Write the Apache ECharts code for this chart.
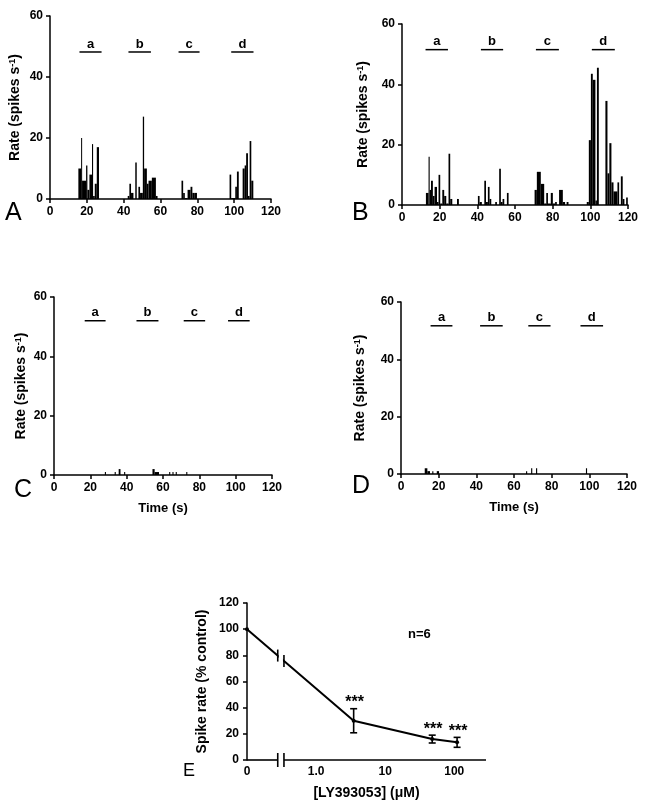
<!DOCTYPE html>
<html><head><meta charset="utf-8">
<script src="https://cdn.jsdelivr.net/npm/echarts@6/dist/echarts.min.js"></script>
<style>html,body{margin:0;padding:0;background:#fff}#c{width:649px;height:804px}</style>
</head><body><div id="c"></div>
<script>
// ---------- data ----------
const timeTicks = [0, 20, 40, 60, 80, 100, 120];
const rateTicks = [0, 20, 40, 60];
const stimLabels = ['a', 'b', 'c', 'd'];

// stimulus periods [start s, end s]
const stimA = [[16, 28], [42.6, 54.8], [69.8, 81.2], [98.4, 110.5]];
const stimB = [[12.5, 24.4], [41.9, 53.7], [71.1, 83.3], [100.8, 113]];
const stimC = [[16.9, 28.4], [45.4, 57.5], [71.4, 83.2], [95.8, 107.7]];
const stimD = [[15.7, 27.3], [42, 54], [67.6, 79.4], [95.3, 107.3]];
const stimLevel = { A: 48.2, B: 51.5, C: 52, D: 51.7 };

// histogram bins [start s, end s, rate spikes/s]
const binsA = [
  [15.4,16.9,10],[16.9,17.4,20],[17.4,19.6,6],[19.6,20.3,11],[20.3,21.4,3],[21.4,22.8,8],[22.8,23.4,18],[23.4,24.3,1],[24.3,25.4,5],[25.4,26.6,17],
  [42.2,43.1,1],[43.1,44,5],[44,45.3,2],[46.3,47.1,12],[48,48.9,4],[48.9,50.4,2],[50.4,51.1,27],[51.1,52.6,10],[52.6,53.5,5],[53.5,55.3,6],[55.3,57.5,7],[57.5,58.4,1],
  [71.4,72.3,6],[72.3,73.2,2],[73.2,74.7,0.3],[74.7,76.3,3],[76.3,77.3,4],[77.3,78.3,2],[78.3,79.8,2],
  [97.5,98.4,8],[98.4,100.6,0.3],[100.6,101.5,4],[101.5,102.5,9],[104.6,105.7,10],[105.7,106.5,11],[106.5,107.5,15],[107.5,108.4,1],[108.4,109.3,19],[109.3,110.4,6]
];
const binsB = [
  [12.7,14.1,4],[14.1,14.7,16],[14.7,15.4,5],[15.4,16.4,8],[16.4,17.3,3],[17.3,18.6,6],[18.6,19.4,1],[19.4,20.3,10],[20.3,21.4,0.5],[21.4,22.4,5],[22.4,23.5,3],[23.5,24.7,0.5],[24.7,25.6,17],[25.6,26.7,2],[29.2,30.2,2],
  [40.3,41.2,3],[41.2,42.4,1],[43.7,44.6,8],[44.6,45.6,1],[45.6,46.5,6],[46.5,47.4,2],[49.5,50.4,1],[51.6,52.5,12],[52.5,53.4,1],[53.4,54.3,2],[55.7,56.6,4],
  [70.4,71.6,5],[71.6,73.7,11],[73.7,75.5,7],[75.5,76.6,0.5],[76.6,77.5,4],[77.5,79,0.5],[79,80.1,4],[80.1,81.3,0.5],[81.3,82.2,1],[83.4,85.4,5],[85.4,86.6,1],[87.4,88.4,1],
  [98.1,99.2,1],[99.2,100.3,21.5],[100.3,101.3,43.5],[101.3,102.7,41.5],[102.7,103.5,1.5],[103.5,104.5,45.5],[108,109.1,34.5],[109.1,110.1,10.5],[110.1,111.2,20.5],[111.2,112.3,7.5],[112.3,114.4,4.5],[114.4,115.3,7.5],[116.2,117.2,9.5],[117.2,118.1,2],[119,119.9,2.5]
];
const binsC = [
  [28,28.6,1],[33.4,34,1],[35.6,36.6,2],[38.6,39.2,1],[54.2,55.4,2],[55.4,57.8,1],[63.4,64,1],[65.2,65.8,1],[67,67.6,1],[72.8,73.4,1]
];
const binsD = [
  [12.6,14,2],[14,15.4,1],[16.6,17.2,1],[19,20.2,1],[66.4,67,1],[69.1,69.7,2],[71.7,72.3,2],[98.2,98.8,2]
];

// panel E: concentration-response
const eConc = [0, 3.5, 48, 110];          // µM (0 = control)
const eMean = [100, 30, 16, 13.5];         // % control
const eErr  = [0, 9.2, 3, 3.8];            // ± error
const eStars = ['', '***', '***', '***'];
const eTickConc = [0, 1, 10, 100];
const eTickLabels = ['0', '1.0', '10', '100'];
const eYTicks = [0, 20, 40, 60, 80, 100, 120];
const eBreak = [0.445, 0.535];             // axis-break positions (axis units)
const eXMax = 3.46;

// ---------- helpers ----------
const FONT = '"Liberation Sans", Arial, sans-serif';
function tpos(c) { return c === 0 ? 0 : Math.log10(c) + 1; }

const grids = [
  { left: 50,  top: 16,  width: 221, height: 183 },   // A
  { left: 402, top: 24,  width: 226, height: 181 },   // B
  { left: 54,  top: 297, width: 218, height: 178 },   // C
  { left: 401, top: 302, width: 226, height: 172 },   // D
  { left: 247, top: 603, width: 239, height: 157 }    // E
];
const nameGaps = [28, 32, 26, 34];

const axisLineStyle = { color: '#000', width: 1.5 };
const tickStyle = { show: true, length: 4, lineStyle: { color: '#000', width: 1.5 } };
const labelStyle = { color: '#000', fontFamily: FONT, fontWeight: 'bold', fontSize: 12 };

const xAxes = [], yAxes = [], series = [];

const panels = [
  { bins: binsA, stim: stimA, lvl: stimLevel.A, time: false },
  { bins: binsB, stim: stimB, lvl: stimLevel.B, time: false },
  { bins: binsC, stim: stimC, lvl: stimLevel.C, time: true },
  { bins: binsD, stim: stimD, lvl: stimLevel.D, time: true }
];

panels.forEach((p, i) => {
  xAxes.push({
    gridIndex: i, type: 'value', min: timeTicks[0], max: timeTicks[timeTicks.length - 1],
    interval: timeTicks[1] - timeTicks[0],
    axisLine: { show: true, lineStyle: axisLineStyle }, axisTick: tickStyle,
    axisLabel: Object.assign({ margin: 7 }, labelStyle), splitLine: { show: false },
    name: p.time ? 'Time (s)' : '', nameLocation: 'middle', nameGap: 27,
    nameTextStyle: { color: '#000', fontFamily: FONT, fontWeight: 'bold', fontSize: 13 }
  });
  yAxes.push({
    gridIndex: i, type: 'value', min: rateTicks[0], max: rateTicks[rateTicks.length - 1],
    interval: rateTicks[1] - rateTicks[0],
    axisLine: { show: true, lineStyle: axisLineStyle }, axisTick: tickStyle,
    axisLabel: Object.assign({ margin: 7 }, labelStyle), splitLine: { show: false },
    name: 'Rate (spikes s{sup|-1})', nameLocation: 'middle', nameGap: nameGaps[i],
    nameTextStyle: {
      color: '#000', fontFamily: FONT, fontWeight: 'bold', fontSize: 14,
      rich: { sup: { color: '#000', fontFamily: FONT, fontWeight: 'bold', fontSize: 9, verticalAlign: 'top', lineHeight: 14 } }
    }
  });
  series.push({
    type: 'custom', xAxisIndex: i, yAxisIndex: i, data: p.bins,
    encode: { x: [0, 1], y: 2 }, silent: true,
    renderItem: function (params, api) {
      const a = api.coord([api.value(0), 0]);
      const b = api.coord([api.value(1), api.value(2)]);
      return { type: 'rect', shape: { x: a[0], y: b[1], width: Math.max(b[0] - a[0], 1), height: a[1] - b[1] },
               style: { fill: '#000' } };
    }
  });
  series.push({
    type: 'custom', xAxisIndex: i, yAxisIndex: i,
    data: p.stim.map(s => [s[0], s[1], p.lvl]),
    encode: { x: [0, 1], y: 2 }, silent: true,
    renderItem: function (params, api) {
      const a = api.coord([api.value(0), api.value(2)]);
      const b = api.coord([api.value(1), api.value(2)]);
      return { type: 'group', children: [
        { type: 'line', shape: { x1: a[0], y1: a[1], x2: b[0], y2: b[1] }, style: { stroke: '#000', lineWidth: 1.5 } },
        { type: 'text', style: { text: stimLabels[params.dataIndex], x: (a[0] + b[0]) / 2, y: a[1] - 8,
          align: 'center', verticalAlign: 'middle', fill: '#000', font: 'bold 13px ' + FONT } }
      ] };
    }
  });
});

// ---------- panel E ----------
xAxes.push({
  gridIndex: 4, type: 'value', min: 0, max: eXMax, interval: 1,
  axisLine: { show: false }, axisTick: { show: false }, splitLine: { show: false },
  axisLabel: Object.assign({ margin: 6, formatter: function (v) {
    const k = eTickConc.findIndex(c => Math.abs(tpos(c) - v) < 1e-6);
    return k >= 0 ? eTickLabels[k] : '';
  } }, labelStyle),
  name: '[LY393053] (\u03bcM)', nameLocation: 'middle', nameGap: 26,
  nameTextStyle: { color: '#000', fontFamily: FONT, fontWeight: 'bold', fontSize: 14 }
});
yAxes.push({
  gridIndex: 4, type: 'value', min: eYTicks[0], max: eYTicks[eYTicks.length - 1], interval: eYTicks[1] - eYTicks[0],
  axisLine: { show: true, lineStyle: axisLineStyle }, axisTick: tickStyle, splitLine: { show: false },
  axisLabel: Object.assign({ margin: 8 }, labelStyle),
  name: 'Spike rate (% control)', nameLocation: 'middle', nameGap: 38,
  nameTextStyle: { color: '#000', fontFamily: FONT, fontWeight: 'bold', fontSize: 14 }
});

const ePts = eConc.map((c, i) => [tpos(c), eMean[i]]);

// axis line with break
series.push({
  type: 'custom', xAxisIndex: 4, yAxisIndex: 4, silent: true, data: [[0, 0]], z: 3,
  renderItem: function (params, api) {
    const o = api.coord([0, 0]), b1 = api.coord([eBreak[0], 0]), b2 = api.coord([eBreak[1], 0]), e = api.coord([eXMax, 0]);
    // break marks on the curve (interpolated on the segment control -> first dose)
    const t0 = ePts[0][0], t1 = ePts[1][0], v0 = ePts[0][1], v1 = ePts[1][1];
    const c1 = api.coord([eBreak[0], v0 + (v1 - v0) * (eBreak[0] - t0) / (t1 - t0)]);
    const c2 = api.coord([eBreak[1], v0 + (v1 - v0) * (eBreak[1] - t0) / (t1 - t0)]);
    const st = { stroke: '#000', lineWidth: 1.6 };
    return { type: 'group', children: [
      { type: 'line', shape: { x1: o[0], y1: o[1], x2: b1[0], y2: b1[1] }, style: st },
      { type: 'line', shape: { x1: b2[0], y1: b2[1], x2: e[0], y2: e[1] }, style: st },
      { type: 'line', shape: { x1: b1[0], y1: b1[1] - 7, x2: b1[0], y2: b1[1] + 7 }, style: st },
      { type: 'line', shape: { x1: b2[0], y1: b2[1] - 7, x2: b2[0], y2: b2[1] + 7 }, style: st },
      { type: 'rect', shape: { x: c1[0] + 1, y: c1[1] - 8, width: c2[0] - c1[0] - 2, height: (c2[1] - c1[1]) + 16 }, style: { fill: '#fff' } },
      { type: 'line', shape: { x1: c1[0], y1: c1[1] - 6, x2: c1[0], y2: c1[1] + 6 }, style: st },
      { type: 'line', shape: { x1: c2[0], y1: c2[1] - 6, x2: c2[0], y2: c2[1] + 6 }, style: st }
    ] };
  }
});
// curve
series.push({
  type: 'line', xAxisIndex: 4, yAxisIndex: 4, data: ePts, z: 2,
  lineStyle: { color: '#000', width: 2 }, itemStyle: { color: '#000' },
  symbol: 'circle', symbolSize: 4, showSymbol: true, silent: true
});
// error bars + stars
series.push({
  type: 'custom', xAxisIndex: 4, yAxisIndex: 4, silent: true, z: 4,
  data: eConc.map((c, i) => [tpos(c), eMean[i], eErr[i]]),
  renderItem: function (params, api) {
    const t = api.value(0), m = api.value(1), er = api.value(2);
    if (!er) return null;
    const top = api.coord([t, m + er]), bot = api.coord([t, m - er]);
    const st = { stroke: '#000', lineWidth: 1.6 };
    return { type: 'group', children: [
      { type: 'line', shape: { x1: top[0], y1: top[1], x2: bot[0], y2: bot[1] }, style: st },
      { type: 'line', shape: { x1: top[0] - 3.5, y1: top[1], x2: top[0] + 3.5, y2: top[1] }, style: st },
      { type: 'line', shape: { x1: bot[0] - 3.5, y1: bot[1], x2: bot[0] + 3.5, y2: bot[1] }, style: st },
      { type: 'text', style: { text: eStars[params.dataIndex], x: top[0] + 1, y: top[1] - 6, align: 'center', verticalAlign: 'middle',
        fill: '#000', font: 'bold 16px ' + FONT } }
    ] };
  }
});

const letterFont = '25px ' + FONT;
const option = {
  backgroundColor: '#fff',
  animation: false,
  grid: grids,
  xAxis: xAxes,
  yAxis: yAxes,
  series: series,
  graphic: [
    { type: 'text', left: 5, top: 201, style: { text: 'A', font: letterFont, fill: '#000' } },
    { type: 'text', left: 352, top: 201, style: { text: 'B', font: letterFont, fill: '#000' } },
    { type: 'text', left: 14, top: 478, style: { text: 'C', font: letterFont, fill: '#000' } },
    { type: 'text', left: 352, top: 474, style: { text: 'D', font: letterFont, fill: '#000' } },
    { type: 'text', left: 183, top: 762, style: { text: 'E', font: '18px ' + FONT, fill: '#000' } },
    { type: 'text', left: 408, top: 628, style: { text: 'n=6', font: 'bold 13px ' + FONT, fill: '#000' } }
  ]
};
const chart = echarts.init(document.getElementById('c'));
chart.setOption(option);
</script>
</body></html>
